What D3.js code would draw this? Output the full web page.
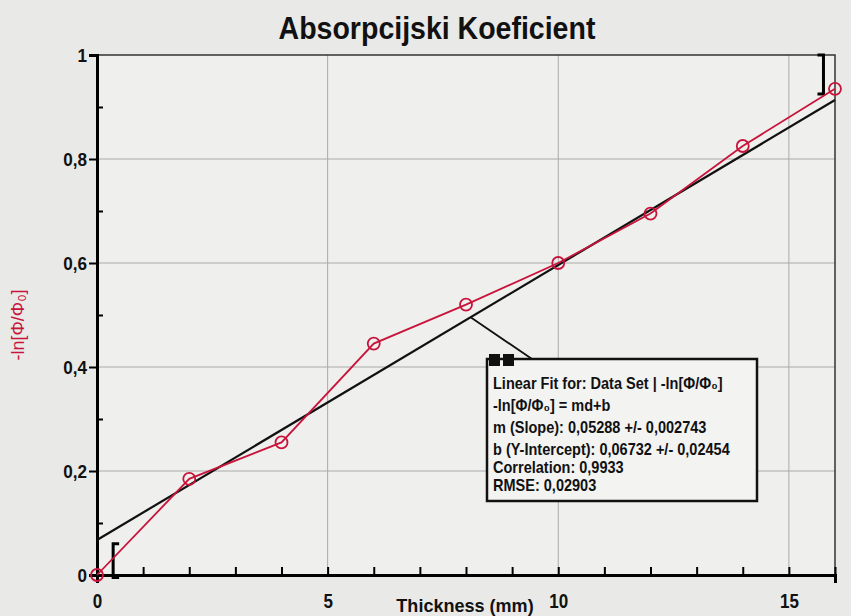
<!DOCTYPE html>
<html>
<head>
<meta charset="utf-8">
<script src="https://cdn.jsdelivr.net/npm/d3@7"></script>
<style>
  body { margin: 0; background: #e9e9e7; }
  svg { display: block; font-family: "Liberation Sans", Arial, sans-serif; }
</style>
</head>
<body>
<svg id="chart" width="851" height="616"></svg>
<script>
// measured data (thickness in mm, -ln[Φ/Φ0])
const thickness = [0, 2, 4, 6, 8, 10, 12, 14, 16];
const absorb = [0.0, 0.185, 0.255, 0.445, 0.52, 0.60, 0.695, 0.825, 0.935];
// linear fit parameters
const slope = 0.05288;
const intercept = 0.06732;
const xTicks = [0, 5, 10, 15];
const yTicks = [0, 0.2, 0.4, 0.6, 0.8, 1];
const fitLines = [
  "Linear Fit for: Data Set | -ln[Φ/Φ₀]",
  "-ln[Φ/Φ₀] = md+b",
  "m (Slope): 0,05288 +/- 0,002743",
  "b (Y-Intercept): 0,06732 +/- 0,02454",
  "Correlation: 0,9933",
  "RMSE: 0,02903"
];

const WIDTH = 851, HEIGHT = 616;
const MARGINS = { top: 55, right: 16, bottom: 41, left: 97 };
const svg = d3.select("#chart");

const x = d3.scaleLinear().domain([0, 16]).range([MARGINS.left, WIDTH - MARGINS.right]);
const y = d3.scaleLinear().domain([0, 1]).range([HEIGHT - MARGINS.bottom, MARGINS.top]);
const fmt = d => d3.format(".1f")(d).replace(".", ",").replace(",0", "");
const isMajor = d => yTicks.some(t => Math.abs(t - d) < 1e-6);
const red = "#c8143a";
// condensed text helper (no narrow font installed)
const narrow = (sel, px, py, sx) => sel.attr("transform", `translate(${px},${py}) scale(${sx},1)`);

// plot background
svg.append("rect")
  .attr("x", x(0)).attr("y", y(1))
  .attr("width", x(16) - x(0)).attr("height", y(0) - y(1))
  .attr("fill", "#efefed");

// grid
svg.append("g").selectAll("line")
  .data(xTicks.filter(d => d > 0))
  .enter().append("line")
  .attr("x1", d => x(d)).attr("x2", d => x(d))
  .attr("y1", y(0)).attr("y2", y(1))
  .attr("stroke", "#aaa").attr("stroke-width", 1);
svg.append("g").selectAll("line")
  .data(yTicks.filter(d => d > 0 && d < 1))
  .enter().append("line")
  .attr("x1", x(0)).attr("x2", x(16))
  .attr("y1", d => y(d)).attr("y2", d => y(d))
  .attr("stroke", "#aaa").attr("stroke-width", 1);

// frame: top and right thin
svg.append("path")
  .attr("d", `M${x(0)},${y(1)}H${x(16)}V${y(0)}`)
  .attr("fill", "none").attr("stroke", "#333").attr("stroke-width", 1.5);

// axes
const xAxis = svg.append("g")
  .attr("transform", `translate(0,${y(0)})`)
  .call(d3.axisBottom(x).tickValues(d3.range(0, 17, 1)).tickSize(8).tickFormat(d => xTicks.includes(d) ? d : ""));
xAxis.select(".domain").attr("stroke", "#000").attr("stroke-width", 3);
xAxis.selectAll(".tick line").attr("stroke", "#000").attr("stroke-width", 2)
  .attr("y2", -8);
xAxis.selectAll(".tick text").attr("font-size", 20).attr("font-weight", "bold").attr("fill", "#111")
  .attr("dy", "1.1em").attr("transform", "scale(0.85,1)");

const yAxis = svg.append("g")
  .attr("transform", `translate(${x(0)},0)`)
  .call(d3.axisLeft(y).tickValues(d3.range(0, 1.05, 0.1)).tickSize(8)
    .tickFormat(d => isMajor(d) ? fmt(d) : ""));
yAxis.select(".domain").attr("stroke", "#000").attr("stroke-width", 3);
yAxis.selectAll(".tick line").attr("stroke", "#000").attr("stroke-width", 2)
  .attr("x1", d => isMajor(d) ? -8 : 0)
  .attr("x2", d => isMajor(d) ? 0 : 6);
yAxis.selectAll(".tick text").attr("font-size", 19).attr("font-weight", "bold").attr("fill", "#111")
  .attr("x", -11).attr("transform", "scale(0.9,1)");

// fit range brackets
const bracket = (x0, y0, y1, dir) => {
  const w = dir * 6;
  return `M${x(x0) + w},${y(y0)}H${x(x0)}V${y(y1)}H${x(x0) + w}`;
};
svg.append("path").attr("d", bracket(0.35, 0.06, -0.005, 1))
  .attr("fill", "none").attr("stroke", "#000").attr("stroke-width", 3);
svg.append("path").attr("d", bracket(15.75, 1.0, 0.925, -1))
  .attr("fill", "none").attr("stroke", "#000").attr("stroke-width", 3);

// fit line
const fit = d => slope * d + intercept;
svg.append("line")
  .attr("x1", x(0)).attr("y1", y(fit(0)))
  .attr("x2", x(16)).attr("y2", y(fit(16)))
  .attr("stroke", "#111").attr("stroke-width", 2.2);

// data line and points
const data = thickness.map((t, i) => ({ x: t, y: absorb[i] }));
svg.append("path")
  .attr("d", d3.line().x(d => x(d.x)).y(d => y(d.y))(data))
  .attr("fill", "none").attr("stroke", red).attr("stroke-width", 1.8);
svg.selectAll(".pt").data(data).enter()
  .append("circle").attr("class", "pt")
  .attr("cx", d => x(d.x)).attr("cy", d => y(d.y)).attr("r", 6)
  .attr("fill", "none").attr("stroke", red).attr("stroke-width", 1.8);

// fit annotation box
const box = { x: 487, y: 359, w: 270, h: 142 };
svg.append("line")
  .attr("x1", x(8.1)).attr("y1", y(fit(8.1)))
  .attr("x2", box.x + 45).attr("y2", box.y)
  .attr("stroke", "#111").attr("stroke-width", 1.8);
svg.append("rect")
  .attr("x", box.x).attr("y", box.y).attr("width", box.w).attr("height", box.h)
  .attr("fill", "#f3f3f1").attr("stroke", "#111").attr("stroke-width", 2.5);
svg.append("rect").attr("x", box.x + 2).attr("y", box.y - 5).attr("width", 11).attr("height", 12).attr("fill", "#111");
svg.append("rect").attr("x", box.x + 16).attr("y", box.y - 5).attr("width", 11).attr("height", 12).attr("fill", "#111");
svg.append("g").selectAll("text")
  .data(fitLines).enter().append("text")
  .each(function (d, i) {
    narrow(d3.select(this), box.x + 6, box.y + 30 + i * 22 - (i > 3 ? (i - 3) * 4 : 0), 0.88);
  })
  .attr("font-size", 16.5).attr("fill", "#111").attr("font-weight", "bold")
  .text(d => d);

// titles
narrow(svg.append("text"), 437, 39, 0.92).attr("text-anchor", "middle")
  .attr("font-size", 31).attr("fill", "#111").attr("font-weight", "bold").text("Absorpcijski Koeficient");
narrow(svg.append("text"), 465, 612, 0.95).attr("text-anchor", "middle")
  .attr("font-size", 19).attr("fill", "#111").attr("font-weight", "bold").text("Thickness (mm)");
svg.append("text")
  .attr("transform", `translate(24,${(y(0) + y(1)) / 2 + 10}) rotate(-90)`)
  .attr("text-anchor", "middle")
  .attr("font-size", 18).attr("fill", red).text("-ln[Φ/Φ₀]");
</script>
</body>
</html>
